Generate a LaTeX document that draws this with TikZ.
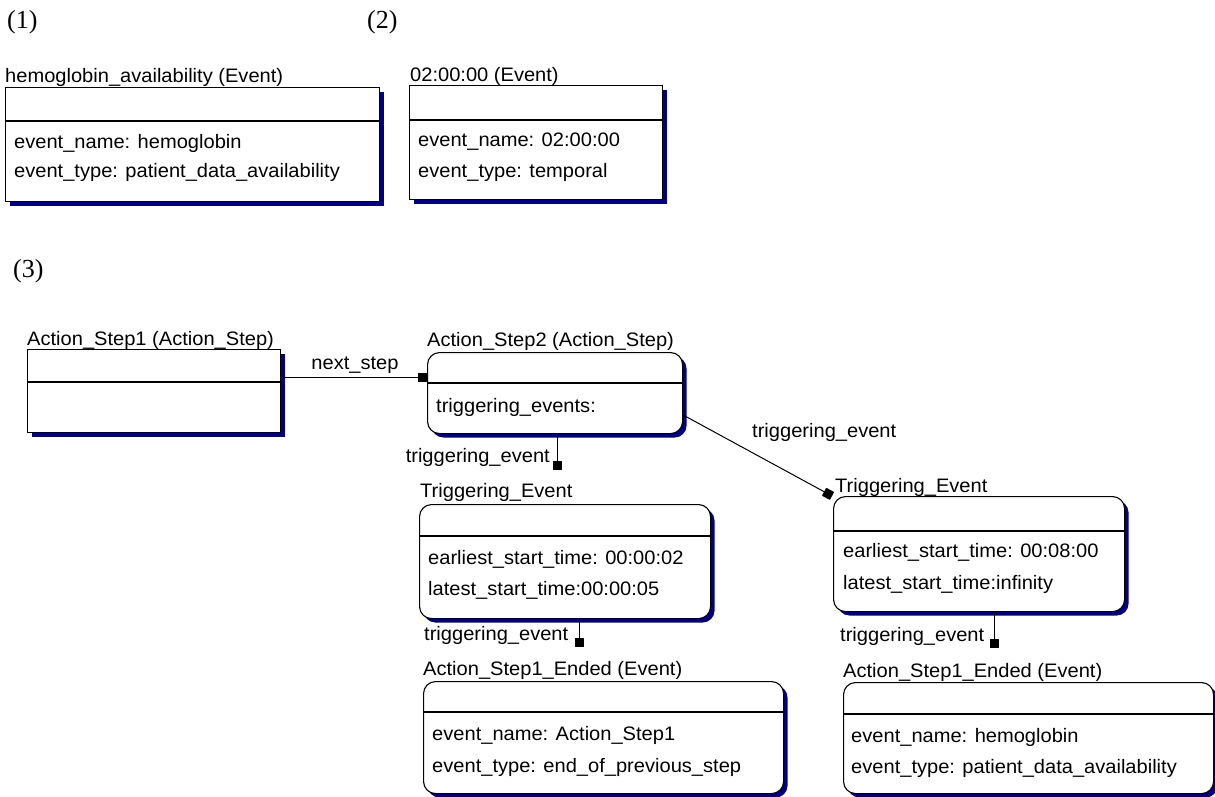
\documentclass[tikz,border=0pt]{standalone}
\usepackage{fontspec}
\setmainfont{Liberation Serif}
\newfontfamily\umlfont[FakeStretch=1.03]{Liberation Sans}
\usetikzlibrary{shadows,arrows.meta}
\definecolor{shadenavy}{RGB}{0,0,128}
\tikzset{
  umlbox/.style={draw, line width=1.1pt, fill=white, inner sep=0pt, anchor=north west,
    drop shadow={shadow xshift=4pt, shadow yshift=-4pt, fill=shadenavy, opacity=1}},
  roundbox/.style={umlbox, rounded corners=12pt},
  divider/.style={line width=1.1pt},
  txt/.style={anchor=base west, inner sep=0pt, font=\umlfont\fontsize{19.5}{23}\selectfont},
  rtxt/.style={txt, anchor=base east},
  ctxt/.style={txt, anchor=base},
  part/.style={anchor=base west, inner sep=0pt, font=\fontsize{26}{30}\selectfont},
  link/.style={line width=1pt, -{Square[length=9pt,width=9pt,round]}},
}
\begin{document}
\begin{tikzpicture}[x=1pt,y=-1pt]
\useasboundingbox (0,0) rectangle (1215,796);

% section numbers
\node[part] (p1) at (7,28) {(1)};
\node[part] (p2) at (367,28) {(2)};
\node[part] (p3) at (13,277) {(3)};

% (1) hemoglobin event
\node[umlbox, minimum width=374pt, minimum height=114pt] (hb) at (5,87) {};
\draw[divider] (hb.west |- 0,121) -- (hb.east |- 0,121);
\node[txt] (hbt) at (5,82) {hemoglobin\_availability (Event)};
\node[txt] (hb1) at (14,148) {event\_name: hemoglobin};
\node[txt] (hb2) at (14,177) {event\_type: patient\_data\_availability};

% (2) temporal event
\node[umlbox, minimum width=253pt, minimum height=114pt] (tm) at (409,85) {};
\draw[divider] (tm.west |- 0,120) -- (tm.east |- 0,120);
\node[txt] (tmt) at (410,81) {02:00:00 (Event)};
\node[txt] (tm1) at (418,146) {event\_name: 02:00:00};
\node[txt] (tm2) at (418,177) {event\_type: temporal};

% (3) action steps
\node[umlbox, minimum width=253pt, minimum height=83pt] (as1) at (27,349) {};
\draw[divider] (as1.west |- 0,382) -- (as1.east |- 0,382);
\node[txt] (as1t) at (27,345) {Action\_Step1 (Action\_Step)};

\node[roundbox, minimum width=255pt, minimum height=81pt] (as2) at (427,352) {};
\draw[divider] (as2.west |- 0,383) -- (as2.east |- 0,383);
\node[txt] (as2t) at (427,346) {Action\_Step2 (Action\_Step)};
\node[txt] (as21) at (436,412) {triggering\_events:};

% triggering events
\node[roundbox, minimum width=291pt, minimum height=114pt] (tr1) at (419,504) {};
\draw[divider] (tr1.west |- 0,536) -- (tr1.east |- 0,536);
\node[txt] (tr1t) at (420,497) {Triggering\_Event};
\node[txt] (tr11) at (428,564) {earliest\_start\_time: 00:00:02};
\node[txt] (tr12) at (428,595) {latest\_start\_time:00:00:05};

\node[roundbox, minimum width=291pt, minimum height=115pt] (tr2) at (833,496) {};
\draw[divider] (tr2.west |- 0,531) -- (tr2.east |- 0,531);
\node[txt] (tr2t) at (835,492) {Triggering\_Event};
\node[txt] (tr21) at (843,557) {earliest\_start\_time: 00:08:00};
\node[txt] (tr22) at (843,589) {latest\_start\_time:infinity};

% ended events
\node[roundbox, minimum width=360pt, minimum height=112pt] (ae1) at (423,681) {};
\draw[divider] (ae1.west |- 0,712) -- (ae1.east |- 0,712);
\node[txt] (ae1t) at (423,675) {Action\_Step1\_Ended (Event)};
\node[txt] (ae11) at (432,740) {event\_name: Action\_Step1};
\node[txt] (ae12) at (432,772) {event\_type: end\_of\_previous\_step};

\node[roundbox, minimum width=370pt, minimum height=111pt] (ae2) at (843,682) {};
\draw[divider] (ae2.west |- 0,714) -- (ae2.east |- 0,714);
\node[txt] (ae2t) at (843,677) {Action\_Step1\_Ended (Event)};
\node[txt] (ae21) at (851,742) {event\_name: hemoglobin};
\node[txt] (ae22) at (851,773) {event\_type: patient\_data\_availability};

% connector ends
\coordinate (e1) at (557,470);
\coordinate (e2) at (832,496);
\coordinate (e3) at (579,647);
\coordinate (e4) at (994,648);

% connectors
\draw[link] (as1.east |- 0,377) -- (as2.west |- 0,377);
\node[ctxt] (l0) at (355,369) {next\_step};
\draw[link] (as2.south -| 557,0) -- (e1);
\node[rtxt] (l1) at (550,462) {triggering\_event};
\draw[link] (as2.east |- 0,415) -- (e2);
\node[txt] (l2) at (752,437) {triggering\_event};
\draw[link] (tr1.south -| 579,0) -- (e3);
\node[txt] (l3) at (424,640) {triggering\_event};
\draw[link] (tr2.south -| 994,0) -- (e4);
\node[txt] (l4) at (840,641) {triggering\_event};
\end{tikzpicture}
\end{document}
